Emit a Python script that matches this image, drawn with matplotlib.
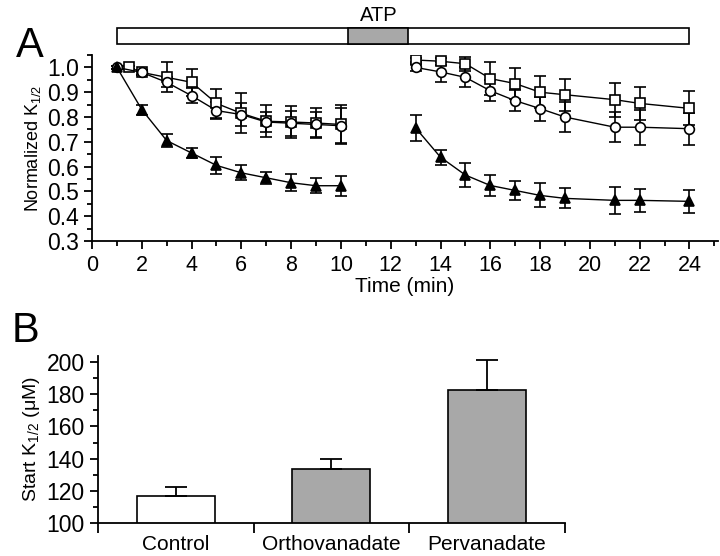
import numpy as np
import matplotlib.pyplot as plt
from matplotlib.ticker import MultipleLocator
from matplotlib.patches import Rectangle
import matplotlib.transforms as mtransforms

plt.rcParams['font.family'] = ['Liberation Sans', 'DejaVu Sans']
plt.rcParams['mathtext.fontset'] = 'custom'
plt.rcParams['mathtext.rm'] = 'Liberation Sans'

# --- Panel A data (normalized K1/2 vs time) ---
t_sq1 = [1.5, 2, 3, 4, 5, 6, 7, 8, 9, 10]
sq1 = [1.00, 0.98, 0.96, 0.94, 0.855, 0.815, 0.783, 0.78, 0.776, 0.77]
sq1_err = [0.005, 0.01, 0.06, 0.055, 0.06, 0.08, 0.065, 0.065, 0.06, 0.08]

t_ci1 = [1, 2, 3, 4, 5, 6, 7, 8, 9, 10]
ci1 = [1.00, 0.98, 0.94, 0.886, 0.826, 0.81, 0.78, 0.775, 0.77, 0.765]
ci1_err = [0.005, 0.01, 0.02, 0.03, 0.035, 0.045, 0.04, 0.05, 0.05, 0.07]

t_tr1 = [1, 2, 3, 4, 5, 6, 7, 8, 9, 10]
tr1 = [1.00, 0.83, 0.705, 0.655, 0.605, 0.575, 0.555, 0.535, 0.523, 0.523]
tr1_err = [0.005, 0.02, 0.025, 0.02, 0.035, 0.03, 0.025, 0.035, 0.03, 0.04]

t2 = [13, 14, 15, 16, 17, 18, 19, 21, 22, 24]
sq2 = [1.03, 1.025, 1.015, 0.955, 0.935, 0.9, 0.89, 0.87, 0.855, 0.835]
sq2_err = [0.01, 0.015, 0.028, 0.067, 0.063, 0.065, 0.064, 0.068, 0.067, 0.068]
ci2 = [1.00, 0.982, 0.96, 0.906, 0.866, 0.834, 0.80, 0.759, 0.759, 0.753]
ci2_err = [0.015, 0.04, 0.04, 0.043, 0.043, 0.048, 0.06, 0.06, 0.07, 0.065]
tr2 = [0.756, 0.638, 0.566, 0.524, 0.504, 0.484, 0.472, 0.464, 0.464, 0.46]
tr2_err = [0.053, 0.03, 0.05, 0.042, 0.04, 0.048, 0.04, 0.055, 0.045, 0.045]

# ATP application bar (min)
bar_span = (1, 24)
atp_span = (10.3, 12.7)

# --- Panel B data ---
conditions = ['Control', 'Orthovanadate', 'Pervanadate']
start_k = [116.8, 133.8, 182.7]
start_k_err = [5.8, 5.9, 18.5]
bar_colors = ['white', '#a8a8a8', '#a8a8a8']

fig = plt.figure(figsize=(7.2, 5.56), dpi=100)

# ---------------- Panel A ----------------
ax = fig.add_axes([0.1278, 0.5665, 0.8695, 0.3345])

def series(x, y, err, marker, face):
    ax.errorbar(x, y, yerr=err, color='black', marker=marker, markersize=7,
                markerfacecolor=face, markeredgecolor='black', markeredgewidth=1.2,
                linewidth=1.0, elinewidth=1.2, capsize=4, capthick=1.2, zorder=3)

series(t_sq1, sq1, sq1_err, 's', 'white')
series(t_ci1, ci1, ci1_err, 'o', 'white')
series(t_tr1, tr1, tr1_err, '^', 'black')
series(t2, sq2, sq2_err, 's', 'white')
series(t2, ci2, ci2_err, 'o', 'white')
series(t2, tr2, tr2_err, '^', 'black')

ax.set_xlim(0, 25.15)
ax.set_ylim(0.3, 1.05)
ax.xaxis.set_major_locator(MultipleLocator(2))
ax.xaxis.set_minor_locator(MultipleLocator(1))
ax.yaxis.set_major_locator(MultipleLocator(0.1))
ax.yaxis.set_minor_locator(MultipleLocator(0.05))
ax.yaxis.set_major_formatter(plt.FormatStrFormatter('%.1f'))
ax.spines['top'].set_visible(False)
ax.spines['right'].set_visible(False)
for s in ['left', 'bottom']:
    ax.spines[s].set_linewidth(1.3)
ax.tick_params(which='major', direction='out', length=6, width=1.3)
ax.tick_params(which='minor', direction='out', length=3.5, width=1.3)
ax.tick_params(axis='y', labelsize=16.5)
ax.tick_params(axis='x', labelsize=15.5, pad=4)
ax.set_xlabel('Time (min)', fontsize=15, labelpad=1)
ax.set_ylabel('Normalized K$_{1/2}$', fontsize=13, labelpad=3)

# ATP bar above the plot
trans = mtransforms.blended_transform_factory(ax.transData, fig.transFigure)
ax.add_patch(Rectangle((bar_span[0], 0.921), bar_span[1] - bar_span[0], 0.0285,
                       transform=trans, facecolor='white', edgecolor='black',
                       linewidth=1.2, clip_on=False))
ax.add_patch(Rectangle((atp_span[0], 0.921), atp_span[1] - atp_span[0], 0.0285,
                       transform=trans, facecolor='#a8a8a8', edgecolor='black',
                       linewidth=1.2, clip_on=False))
ax.text(sum(atp_span) / 2, 0.955, 'ATP', transform=trans, ha='center', va='bottom',
        fontsize=14.5)

fig.text(0.042, 0.918, 'A', fontsize=30, ha='center', va='center')
fig.text(0.035, 0.405, 'B', fontsize=30, ha='center', va='center')

# ---------------- Panel B ----------------
bx = fig.add_axes([0.136, 0.0594, 0.6486, 0.301])
xpos = np.arange(len(conditions))
bx.bar(xpos, start_k, width=0.5, bottom=0, color=bar_colors, edgecolor='black',
       linewidth=1.2, zorder=2)
bx.errorbar(xpos, start_k, yerr=[np.zeros(len(start_k)), start_k_err], fmt='none',
            ecolor='black', elinewidth=1.3, capsize=8, capthick=1.3, zorder=3)
bx.set_xlim(-0.5, 2.5)
bx.set_ylim(100, 204)
bx.set_xticks([-0.5, 0.5, 1.5, 2.5])
bx.set_xticklabels([])
bx.set_xticks(xpos, minor=True)
bx.set_xticklabels(conditions, minor=True, fontsize=15)
bx.tick_params(axis='x', which='minor', length=0, pad=9)
bx.tick_params(axis='x', which='major', direction='out', length=7, width=1.3)
bx.yaxis.set_major_locator(MultipleLocator(20))
bx.yaxis.set_minor_locator(MultipleLocator(10))
bx.tick_params(axis='y', which='major', direction='out', length=6, width=1.3, labelsize=16.5)
bx.tick_params(axis='y', which='minor', direction='out', length=3.5, width=1.3)
bx.spines['top'].set_visible(False)
bx.spines['right'].set_visible(False)
for s in ['left', 'bottom']:
    bx.spines[s].set_linewidth(1.3)
bx.set_ylabel('Start K$_{1/2}$ (\u03bcM)', fontsize=14, labelpad=3)

fig.savefig('out.png', dpi=100)
